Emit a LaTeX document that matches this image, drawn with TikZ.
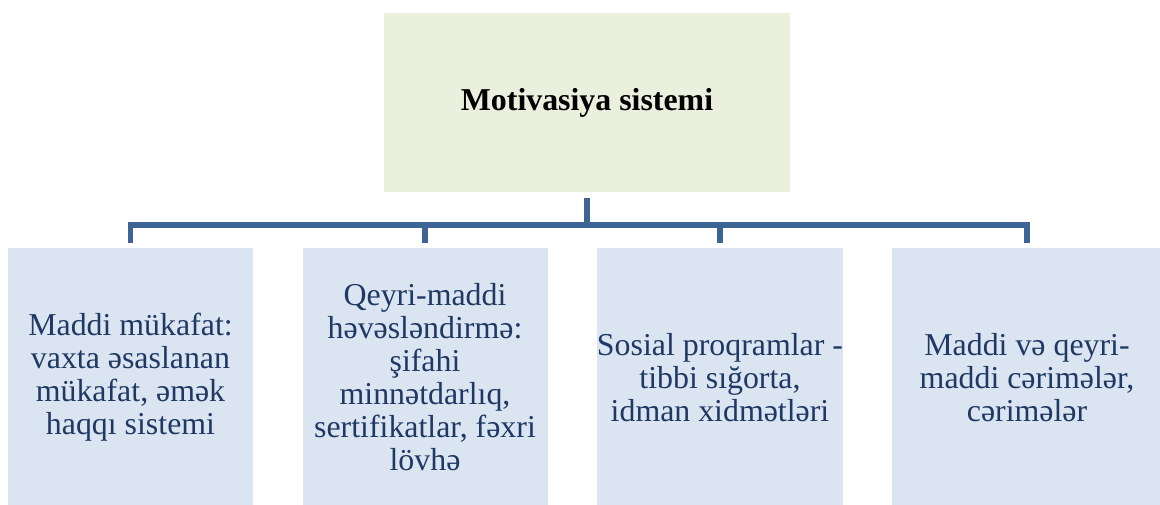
\documentclass[tikz,border=0pt]{standalone}
\usepackage{fontspec}
\setmainfont{Liberation Serif}
\definecolor{topfill}{RGB}{235,239,222}
\definecolor{boxfill}{RGB}{219,229,241}
\definecolor{linkblue}{RGB}{62,100,150}
\definecolor{textblue}{RGB}{31,56,100}
\tikzset{
    topbox/.style={rectangle, fill=topfill, inner sep=0pt, align=center,
        minimum width=304.5pt, minimum height=134.25pt,
        font=\fontsize{23.9}{24.75}\selectfont\bfseries},
    itembox/.style={rectangle, fill=boxfill, inner sep=0pt, align=center,
        minimum width=183.75pt, minimum height=194pt, text=textblue,
        font=\fontsize{23.9}{24.75}\selectfont},
    link/.style={linkblue, line width=3.8pt, line join=miter}
}
\begin{document}
\begin{tikzpicture}[x=0.75pt, y=-0.75pt]

        \useasboundingbox (0, 0) rectangle (1160, 505);
        \clip (0, 0) rectangle (1160, 505);

        \node[topbox] (top) at (587, 102.5) {Motivasiya sistemi};
        \coordinate (hub) at (587, 225);

        \node[itembox] (b1) at (130.5, 377.5) {Maddi mükafat:\\vaxta əsaslanan\\mükafat, əmək\\haqqı sistemi};
        \node[itembox] (b2) at (425, 377.5) {Qeyri-maddi\\həvəsləndirmə:\\şifahi\\minnətdarlıq,\\sertifikatlar, fəxri\\lövhə};
        \node[itembox] (b3) at (720, 377.5) {Sosial proqramlar -\\tibbi sığorta,\\idman xidmətləri};
        \node[itembox, minimum width=202.5pt] (b4) at (1027, 377.5) {Maddi və qeyri-\\maddi cərimələr,\\cərimələr};

        \draw[link] ([yshift=-4.5pt]top.south) -- (hub);
        \draw[link] ([yshift=3.75pt]b1.north) |- (hub) -| ([yshift=3.75pt]b4.north);
        \foreach \b in {b2, b3} {
            \draw[link] ([yshift=3.75pt]\b.north) -- (\b |- hub);
        }
    \end{tikzpicture}
\end{document}
